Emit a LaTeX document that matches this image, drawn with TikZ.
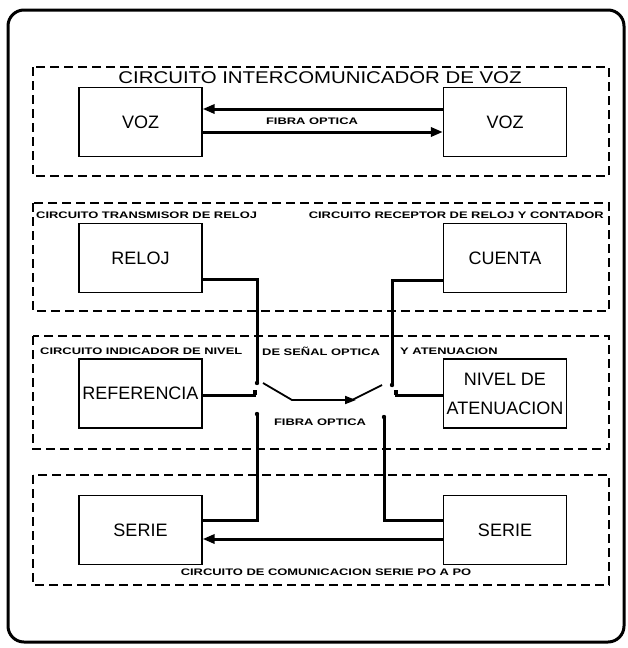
\documentclass[tikz,border=0pt]{standalone}
\usepackage{fontspec}
\setmainfont{Liberation Sans}
\newfontfamily\titfont[FakeStretch=1.2]{Liberation Sans}
\newfontfamily\etiqfont[FakeStretch=1.36]{Liberation Sans}
\usetikzlibrary{arrows.meta}

\tikzset{
  bloque/.style={draw, line width=1.2pt, minimum width=123pt, minimum height=69pt,
    inner sep=0pt, font=\fontsize{18}{20}\selectfont},
  zona/.style={draw, dash pattern=on 9pt off 5pt, line width=1.2pt},
  fibra/.style={line width=3pt},
  punta/.style={-{Triangle[length=12pt,width=9pt]}},
  etiq/.style={font=\etiqfont\bfseries\fontsize{9.5}{10}\selectfont, inner sep=0pt},
  titulo/.style={font=\titfont\fontsize{17}{18}\selectfont, inner sep=0pt},
}

\begin{document}
\begin{tikzpicture}[x=1pt, y=-1pt]
  \useasboundingbox (0,0) rectangle (628,648);
  % Marco exterior
  \draw[line width=3pt, rounded corners=16pt] (8,10) rectangle (624,642);
  % Zonas punteadas
  \foreach \ya/\yb in {67/176, 203/311, 336/449, 475/585} {
    \draw[zona] (33,\ya) rectangle (609,\yb);
  }
  % Bloques
  \node[bloque] (vozA) at (140.5,122) {VOZ};
  \node[bloque] (vozB) at (505,122) {VOZ};
  \node[bloque] (reloj) at (140.5,258) {RELOJ};
  \node[bloque] (cuenta) at (505,258) {CUENTA};
  \node[bloque] (refer) at (140.5,393.5) {REFERENCIA};
  \node[bloque, align=center] (nivel) at (505,393.5) {NIVEL DE\\[9pt]ATENUACION};
  \node[bloque] (serieA) at (140.5,530) {SERIE};
  \node[bloque] (serieB) at (505,530) {SERIE};
  % Textos
  \node[titulo] (tit) at (320,78) {CIRCUITO INTERCOMUNICADOR DE VOZ};
  \node[etiq] (fo1) at (312,121) {FIBRA OPTICA};
  \node[etiq, anchor=west] (trans) at (36,215) {CIRCUITO TRANSMISOR DE RELOJ};
  \node[etiq, anchor=east] (recep) at (604,215) {CIRCUITO RECEPTOR DE RELOJ Y CONTADOR};
  \node[etiq, anchor=west] (ind1) at (40,351) {CIRCUITO INDICADOR DE NIVEL};
  \node[etiq, anchor=west] (ind2) at (262,351) {DE SEÑAL OPTICA};
  \node[etiq, anchor=west] (ind3) at (400,351) {Y ATENUACION};
  \node[etiq] (fo2) at (320,422) {FIBRA OPTICA};
  \node[etiq] (com) at (326,572) {CIRCUITO DE COMUNICACION SERIE PO A PO};
  % Fibra entre voces
  \draw[fibra, punta] ([yshift=13pt]vozB.west) -- ([yshift=13pt]vozA.east);
  \draw[fibra, punta] ([yshift=-10pt]vozA.east) -- ([yshift=-10pt]vozB.west);
  % Reloj y cuenta hasta el conmutador
  \coordinate (swA) at (257,383);
  \coordinate (swB) at (392,385);
  \draw[fibra] ([yshift=-21pt]reloj.east) -| (swA);
  \draw[fibra] ([yshift=-22pt]cuenta.west) -| (swB);
  \fill (swA) circle (2.2pt);
  \fill (swB) circle (2.2pt);
  % Terminales de referencia y nivel
  \coordinate (tA) at (256,395);
  \coordinate (tB) at (395,395);
  \draw[fibra] ([yshift=-1.5pt]refer.east) -- (tA);
  \draw[fibra] ([yshift=-1.5pt]nivel.west) -- (tB);
  \fill ([xshift=-3pt]tA) rectangle ++(4,-5);
  \fill ([xshift=-1pt]tB) rectangle ++(4,-5);
  % Conmutador
  \coordinate (sw1) at (263,383);
  \coordinate (sw2) at (292,400);
  \coordinate (sw3) at (356,400);
  \coordinate (sw4) at (382,385);
  \draw[line width=1.8pt, -{Triangle[length=11pt,width=8pt]}] (sw1) -- (sw2) -- (sw3);
  \draw[line width=1.8pt] ([xshift=-4pt]sw3) -- (sw4);
  % Hacia los bloques serie
  \coordinate (swC) at (257,414);
  \coordinate (swD) at (384,417);
  \draw[fibra] (swC) |- ([yshift=10pt]serieA.east);
  \draw[fibra] (swD) |- ([yshift=10pt]serieB.west);
  \fill (swC) circle (2.2pt);
  \fill (swD) circle (2.2pt);
  \draw[fibra, punta] ([yshift=-9pt]serieB.west) -- ([yshift=-9pt]serieA.east);
\end{tikzpicture}
\end{document}
